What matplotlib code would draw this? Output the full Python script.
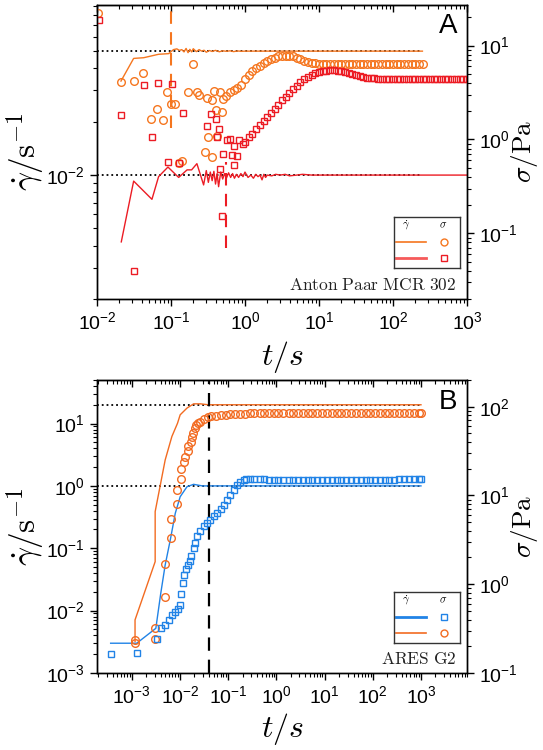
import numpy as np
import matplotlib
matplotlib.use("Agg")
import matplotlib.pyplot as plt
from matplotlib.ticker import LogLocator, NullFormatter

plt.rcParams['font.family'] = ['Liberation Sans', 'DejaVu Sans']

# colours
c_or = '#f5761f'
c_rd = '#ec1c24'
c_or2 = '#f26b21'
c_bl = '#2183e6'

# ---------------- panel A (Anton Paar MCR 302) ----------------
# shear rate, target 0.05 1/s (orange) and 0.01 1/s (red)
tA_or_line = [0.0211, 0.0313, 0.0427, 0.068, 0.093, 0.108,
              0.12, 0.13, 0.14, 0.15, 0.16, 0.17, 0.18, 0.19,
              0.2, 0.22, 0.24, 0.26, 0.28, 0.3,
              0.33, 0.36, 0.4, 0.45, 0.5, 0.56, 0.63, 0.7, 0.8, 0.9, 1.0,
              2.0, 250]
gA_or_line = [0.0339, 0.0455, 0.0459, 0.048, 0.0484, 0.0510,
              0.0515, 0.0505, 0.0510, 0.0495, 0.0518, 0.0490, 0.0512, 0.0495,
              0.0516, 0.0497, 0.0510, 0.0500, 0.0506, 0.0493,
              0.0504, 0.0498, 0.0505, 0.0496, 0.0502, 0.0499, 0.0502, 0.0497, 0.0501, 0.0499, 0.0500,
              0.0500, 0.0500]

tA_rd_line = [0.0213, 0.0313, 0.0553, 0.068, 0.091, 0.127, 0.165, 0.19, 0.224, 0.276,
              0.30, 0.32, 0.34, 0.36, 0.38, 0.40, 0.42, 0.44, 0.47, 0.50,
              0.53, 0.56, 0.60, 0.64, 0.68, 0.72, 0.77, 0.82, 0.88, 0.94,
              1.0, 1.1, 1.2, 1.3, 1.4, 1.5, 1.6, 1.7, 1.8, 1.9, 2.0,
              2.3, 2.6, 3.0, 3.5, 4.0, 5.0, 6.0, 8.0, 10, 1000]
gA_rd_line = [0.0042, 0.00925, 0.0073, 0.0098, 0.0111, 0.0097, 0.0107, 0.0107, 0.0116, 0.0088,
              0.0106, 0.0091, 0.0104, 0.0093, 0.0105, 0.0089, 0.0102, 0.0086, 0.0104, 0.0095,
              0.0102, 0.0096, 0.0103, 0.0097, 0.0102, 0.0096, 0.0101, 0.0097, 0.0102, 0.0098,
              0.0104, 0.0097, 0.0100, 0.0096, 0.0101, 0.0098, 0.0100, 0.0094, 0.0101, 0.0097, 0.0100,
              0.0099, 0.0101, 0.0100, 0.0101, 0.0099, 0.0100, 0.0101, 0.0100, 0.0100, 0.0100]

# stress (Pa), orange circles
tA_or_sig = [0.0102, 0.0211, 0.0313, 0.0419, 0.0536, 0.0647, 0.077, 0.089, 0.1, 0.113,
             0.13, 0.141, 0.168, 0.198, 0.224, 0.24, 0.29, 0.307, 0.32, 0.358,
             0.363, 0.385, 0.405, 0.42, 0.46, 0.49,
             0.5, 0.56, 0.63, 0.71, 0.79, 0.89, 1.0, 1.12, 1.26, 1.41,
             1.58, 1.78, 2.0, 2.24, 2.51, 2.82, 3.16, 3.55, 3.98, 4.47,
             5.01, 5.62, 6.31, 7.08, 7.94, 8.91, 10, 11.2, 12.6, 14.1,
             15.8, 17.8, 20, 22.4, 25.1, 28.2, 31.6, 35.5, 39.8, 44.7,
             50.1, 56.2, 63.1, 70.8, 79.4, 89.1, 100, 112, 126, 141,
             158, 178, 200, 224, 251]
sA_or_sig = [22.3, 4.14, 4.2, 5.16, 1.66, 2.12, 1.63, 3.24, 2.39, 2.39,
             0.56, 0.59, 3.24, 6.33, 3.24, 2.94, 0.73, 2.75, 1.06, 2.6,
             0.65, 3.3, 2.07, 1.1, 3.24, 1.98,
             2.7, 2.9, 3.2, 3.35, 3.5, 3.8, 4.4, 4.9, 5.3, 5.7,
             6.1, 6.5, 6.9, 7.2, 7.45, 7.65, 7.78, 7.83, 7.8, 7.65,
             7.4, 7.15, 6.9, 6.7, 6.55, 6.45, 6.4, 6.38, 6.37, 6.36,
             6.36, 6.35, 6.35, 6.35, 6.35, 6.35, 6.35, 6.35, 6.35, 6.35,
             6.35, 6.35, 6.35, 6.35, 6.35, 6.35, 6.35, 6.35, 6.35, 6.35,
             6.35, 6.35, 6.35, 6.35, 6.35]

# stress (Pa), red squares
tA_rd_sig = [0.0105, 0.0213, 0.0313, 0.0427, 0.055, 0.066, 0.092, 0.103, 0.13, 0.145,
             0.31, 0.35, 0.4, 0.42, 0.44, 0.46, 0.49, 0.51, 0.57, 0.63,
             0.67, 0.71, 0.72, 0.79, 0.84, 0.93,
             1.0, 1.12, 1.26, 1.41, 1.58, 1.78, 2.0, 2.24, 2.51, 2.82,
             3.16, 3.55, 3.98, 4.47, 5.01, 5.62, 6.31, 7.08, 7.94, 8.91,
             10.0, 11.2, 12.6, 14.1, 15.8, 17.8, 20.0, 22.4, 25.1, 28.2,
             31.6, 35.5, 39.8, 44.7, 50.1, 56.2, 63.1, 70.8, 79.4, 89.1,
             100, 112, 126, 141, 158, 178, 200, 224, 251, 282,
             316, 355, 398, 447, 501, 562, 631, 708, 794, 891, 1000]
sA_rd_sig = [18.9, 1.8, 0.04, 3.78, 1.06, 4.0, 0.57, 3.9, 0.56, 1.9,
             1.38, 1.86, 1.66, 1.06, 1.3, 0.48, 0.155, 0.7, 0.98, 1.02,
             0.69, 0.53, 0.86, 0.66, 0.98, 0.9,
             0.93, 1.05, 1.15, 1.28, 1.42, 1.56, 1.73, 1.92, 2.1, 2.35,
             2.6, 2.85, 3.15, 3.45, 3.75, 4.05, 4.35, 4.6, 4.85, 5.05,
             5.22, 5.35, 5.42, 5.45, 5.43, 5.38, 5.3, 5.2, 5.08, 4.95,
             4.83, 4.72, 4.62, 4.55, 4.5, 4.47, 4.45, 4.44, 4.43, 4.42,
             4.42, 4.42, 4.42, 4.42, 4.42, 4.42, 4.42, 4.42, 4.42, 4.42,
             4.42, 4.42, 4.42, 4.42, 4.42, 4.42, 4.42, 4.42, 4.42, 4.42, 4.42]

# ---------------- panel B (ARES G2) ----------------
tB_or_line = [1.17e-3, 1.17e-3, 3.06e-3, 3.06e-3, 4.94e-3, 6.8e-3, 8.9e-3, 1.01e-2,
              1.4e-2, 1.92e-2, 2.64e-2, 3.9e-2, 1000]
gB_or_line = [0.0032, 0.0071, 0.061, 0.387, 2.61, 6.2, 10.1, 13.8,
              17.7, 20.7, 20.7, 20.0, 20.0]

tB_bl_line = [3.65e-4, 1.27e-3, 3.16e-3, 4.0e-3, 4.94e-3, 6.3e-3, 8.0e-3, 1.01e-2,
              1.4e-2, 1.92e-2, 2.9e-2, 1000]
gB_bl_line = [0.003, 0.003, 0.0052, 0.019, 0.054, 0.136, 0.364, 0.67,
              0.97, 1.06, 1.0, 1.0]

tB_or_sig = [1.17e-3, 1.17e-3, 3.1e-3, 3.1e-3, 4.94e-3, 4.94e-3, 6.6e-3, 6.6e-3, 8.6e-3, 8.6e-3,
             1.05e-2, 1.05e-2, 1.24e-2, 1.27e-2, 1.44e-2, 1.5e-2, 1.7e-2, 1.8e-2, 1.9e-2, 2.05e-2,
             2.2e-2, 2.4e-2, 2.64e-2, 3.1e-2, 3.9e-2,
             0.045, 0.056, 0.071, 0.089, 0.11, 0.14, 0.18, 0.22, 0.28, 0.35,
             0.45, 0.56, 0.71, 0.89, 1.1, 1.4, 1.8, 2.2, 2.8, 3.5,
             4.5, 5.6, 7.1, 8.9, 11, 14, 18, 22, 28, 35,
             45, 56, 71, 89, 110, 140, 180, 220, 280, 350,
             450, 560, 710, 890, 1000]
sB_or_sig = [0.235, 0.215, 0.318, 0.24, 0.715, 1.71, 3.32, 5.43, 8.07, 11.6,
             15.4, 19.8, 23.9, 27.4, 32.0, 36.2, 40.5, 46, 51, 57,
             62, 65, 67.8, 72, 76,
             78, 79.5, 80.5, 81.5, 82, 82.5, 83, 83.5, 84, 84,
             84.5, 84.5, 85, 85, 85, 85.5, 85.5, 85.5, 85.5, 85.5,
             85.5, 85.5, 85.5, 85, 85, 85, 85, 85, 85, 85,
             85, 84.5, 84.5, 84.5, 84.5, 84.5, 84.5, 84, 84, 84,
             84, 84, 84, 84, 84]

tB_bl_sig = [3.65e-4, 1.31e-3, 3.3e-3, 4.0e-3, 4.94e-3, 6.0e-3, 7.0e-3, 8.0e-3, 8.9e-3, 9.8e-3,
             1.05e-2, 1.17e-2, 1.24e-2, 1.35e-2, 1.44e-2, 1.58e-2, 1.72e-2, 1.92e-2, 2.08e-2, 2.3e-2,
             2.64e-2, 3.1e-2, 3.6e-2, 4.2e-2, 5.0e-2, 5.9e-2, 7.0e-2, 8.1e-2, 9.5e-2, 0.11,
             0.13, 0.154, 0.18, 0.21, 0.24,
             0.28, 0.35, 0.45, 0.56, 0.71, 0.89, 1.1, 1.4, 1.8, 2.2,
             2.8, 3.5, 4.5, 5.6, 7.1, 8.9, 11, 14, 18, 22,
             28, 35, 45, 56, 71, 89, 110, 140, 180, 220,
             280, 350, 450, 560, 710, 890, 1000]
sB_bl_sig = [0.162, 0.167, 0.24, 0.32, 0.35, 0.40, 0.45, 0.49, 0.52, 0.59,
             0.78, 1.02, 1.28, 1.5, 1.66, 1.82, 2.07, 2.55, 2.9, 3.45,
             3.94, 4.5, 4.9, 5.35, 5.8, 6.3, 7.1, 7.9, 9.0, 10.2,
             11.6, 13.2, 14.2, 15.0, 15.3,
             15.5, 15.4, 15.3, 15.2, 15.1, 15.0, 15.0, 15.0, 15.0, 15.0,
             15.0, 15.0, 15.0, 15.0, 15.0, 15.0, 15.0, 15.0, 15.0, 15.0,
             15.0, 15.0, 15.0, 15.0, 15.0, 15.0, 15.0, 15.0, 15.0, 15.1,
             15.1, 15.2, 15.2, 15.3, 15.3, 15.3, 15.3]


def style_axes(ax, ax2, xlim, ylim, y2lim):
    ax.set_xscale('log')
    ax.set_yscale('log')
    ax2.set_yscale('log')
    ax.set_xlim(*xlim)
    ax.set_ylim(*ylim)
    ax2.set_ylim(*y2lim)
    for a in (ax, ax2):
        a.yaxis.set_minor_locator(LogLocator(base=10, subs=np.arange(2, 10), numticks=20))
        a.yaxis.set_minor_formatter(NullFormatter())
        for s in a.spines.values():
            s.set_linewidth(1.0)
    ax.xaxis.set_major_locator(LogLocator(base=10, numticks=20))
    ax.xaxis.set_minor_locator(LogLocator(base=10, subs=np.arange(2, 10), numticks=20))
    ax.xaxis.set_minor_formatter(NullFormatter())
    ax.tick_params(which='major', direction='out', length=5, width=1, labelsize=14)
    ax.tick_params(which='minor', direction='out', length=3, width=0.8)
    ax2.tick_params(which='major', direction='out', length=5, width=1, labelsize=14)
    ax2.tick_params(which='minor', direction='out', length=3, width=0.8)
    top = ax.secondary_xaxis('top')
    top.set_xscale('log')
    top.xaxis.set_major_locator(LogLocator(base=10, numticks=20))
    top.xaxis.set_minor_locator(LogLocator(base=10, subs=np.arange(2, 10), numticks=20))
    top.tick_params(which='major', direction='in', length=5, width=1, labeltop=False)
    top.tick_params(which='minor', direction='in', length=3, width=0.8, labeltop=False)


def add_key(ax, y0, rows):
    key = ax.inset_axes([0.803, y0, 0.178, 0.173])
    key.set_xlim(0, 1)
    key.set_ylim(0, 1)
    key.set_xticks([])
    key.set_yticks([])
    for s in key.spines.values():
        s.set_linewidth(1.0)
        s.set_color('#333333')
    key.text(0.18, 0.84, r'$\dot{\gamma}$', ha='center', va='center', fontsize=8, math_fontfamily='cm')
    key.text(0.74, 0.84, r'$\sigma$', ha='center', va='center', fontsize=8, math_fontfamily='cm')
    for yy, (lc, lw, mc, mk) in zip([0.52, 0.19], rows):
        key.plot([0.03, 0.48], [yy, yy], color=lc, lw=lw)
        key.plot([0.76], [yy], marker=mk, ms=5, mfc='none', mec=mc, mew=1, ls='none')


fig = plt.figure(figsize=(5.43, 7.5), dpi=100)

# ---- panel A ----
axA = fig.add_axes([0.1786, 0.6013, 0.6814, 0.392])
axA2 = axA.twinx()
style_axes(axA, axA2, (1e-2, 1e3), (0.002, 0.091), (0.02, 27))

axA.plot([1e-2, 250], [0.05, 0.05], ls=':', color='k', lw=1.3)
axA.plot([1e-2, 250], [0.01, 0.01], ls=':', color='k', lw=1.3)
axA.plot(tA_or_line, gA_or_line, color=c_or, lw=1)
axA.plot(tA_rd_line, gA_rd_line, color=c_rd, lw=1)
axA.plot([0.1, 0.1], [0.0185, 0.091], ls=(0, (6, 4)), color=c_or, lw=1.5)
axA.plot([0.56, 0.56], [0.0039, 0.0118], ls=(0, (6, 4)), color=c_rd, lw=1.5)
axA2.plot(tA_or_sig, sA_or_sig, ls='none', marker='o', ms=5.5, mfc='none', mec=c_or, mew=1)
axA2.plot(tA_rd_sig, sA_rd_sig, ls='none', marker='s', ms=5, mfc='none', mec=c_rd, mew=1)

axA.set_xlabel(r'$t/s$', fontsize=23, math_fontfamily='cm')
axA.set_ylabel(r'$\dot{\gamma}/\mathrm{s}^{-1}$', fontsize=24, math_fontfamily='cm')
axA2.set_ylabel(r'$\sigma/\mathrm{Pa}$', fontsize=19.5, math_fontfamily='cm')
axA.xaxis.set_label_coords(0.5, -0.135)
axA.yaxis.set_label_coords(-0.135, 0.5)
axA2.yaxis.set_label_coords(1.113, 0.5)
axA.text(0.95, 0.93, 'A', transform=axA.transAxes, fontsize=20, ha='center', va='center')
axA.text(0.972, 0.048, r'$\mathrm{Anton\ Paar\ MCR\ 302}$', transform=axA.transAxes,
         fontsize=12.5, ha='right', va='center', math_fontfamily='cm', color='#222222')
add_key(axA2, 0.105, [(c_or, 1.2, c_or, 'o'), ('#f65a5a', 2.0, c_rd, 's')])

# ---- panel B ----
axB = fig.add_axes([0.1786, 0.1027, 0.6814, 0.3907])
axB2 = axB.twinx()
style_axes(axB, axB2, (1.9e-4, 9.0e3), (1e-3, 50), (0.1, 200))

axB.plot([1.9e-4, 1000], [20, 20], ls=':', color='k', lw=1.3)
axB.plot([1.9e-4, 1000], [1, 1], ls=':', color='k', lw=1.3)
axB.plot(tB_or_line, gB_or_line, color=c_or2, lw=1)
axB.plot(tB_bl_line, gB_bl_line, color=c_bl, lw=1)
axB.axvline(0.04, ls=(0, (6, 4)), color='k', lw=1.6)
axB2.plot(tB_or_sig, sB_or_sig, ls='none', marker='o', ms=5.5, mfc='none', mec=c_or2, mew=1)
axB2.plot(tB_bl_sig, sB_bl_sig, ls='none', marker='s', ms=5, mfc='none', mec=c_bl, mew=1)

axB.set_xlabel(r'$t/s$', fontsize=23, math_fontfamily='cm')
axB.set_ylabel(r'$\dot{\gamma}/\mathrm{s}^{-1}$', fontsize=24, math_fontfamily='cm')
axB2.set_ylabel(r'$\sigma/\mathrm{Pa}$', fontsize=19.5, math_fontfamily='cm')
axB.xaxis.set_label_coords(0.5, -0.13)
axB.yaxis.set_label_coords(-0.135, 0.5)
axB2.yaxis.set_label_coords(1.113, 0.5)
axB.text(0.95, 0.925, 'B', transform=axB.transAxes, fontsize=20, ha='center', va='center')
axB.text(0.972, 0.048, r'$\mathrm{ARES\ G2}$', transform=axB.transAxes,
         fontsize=12.5, ha='right', va='center', math_fontfamily='cm', color='#222222')
add_key(axB2, 0.102, [(c_bl, 2.0, c_bl, 's'), (c_or2, 1.2, c_or2, 'o')])

fig.savefig('out.png', dpi=100)
